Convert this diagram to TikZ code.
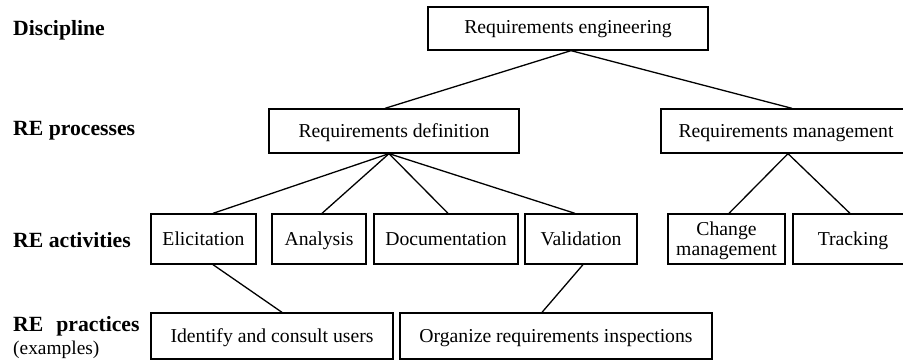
\documentclass[tikz,border=0pt]{standalone}
\usepackage{fontspec}
\setmainfont{Liberation Serif}
\begin{document}
\begin{tikzpicture}[x=1pt,y=-1pt,
  box/.style={draw,line width=1.3pt,rectangle,inner sep=0pt,font=\fontsize{19.7}{21}\selectfont,text height=14pt,text depth=0pt},
  lvl/.style={anchor=west,inner sep=0pt,font=\fontsize{21.7}{23}\selectfont\bfseries},
  conn/.style={line width=1.3pt}]
\clip (0,0) rectangle (903,363);
\useasboundingbox (0,0) rectangle (903,363);
% level labels
\node[lvl] (l1) at (13,30) {Discipline};
\node[lvl] (l2) at (13,131) {RE processes};
\node[lvl] (l3) at (13,240) {RE activities};
\node[lvl] (l4) at (13,326) {RE\hspace{0.6em}practices};
\node[anchor=west,inner sep=0pt,font=\fontsize{19.4}{21}\selectfont] (l5) at (13,350) {(examples)};
% boxes
\node[box,minimum width=280,minimum height=43,text height=12pt,text depth=2pt] (re) at (568,28.5) {Requirements engineering};
\node[box,minimum width=250,minimum height=44] (def) at (394,131) {Requirements definition};
\node[box,minimum width=250,minimum height=44] (mgmt) at (786,131) {Requirements management};
\node[box,minimum width=105,minimum height=50] (eli) at (203.5,239) {Elicitation};
\node[box,minimum width=94,minimum height=50] (ana) at (319,239) {Analysis};
\node[box,minimum width=144,minimum height=50] (doc) at (446,239) {Documentation};
\node[box,minimum width=112,minimum height=50] (val) at (581,239) {Validation};
\node[box,minimum width=117,minimum height=50,text height=,text depth=,font=\fontsize{19.7}{20}\selectfont] (chg) at (726.5,239) {\raisebox{-6.5pt}[0pt][0pt]{\parbox{110pt}{\centering Change\\management}}};
\node[box,minimum width=120,minimum height=50] (trk) at (853,239) {Tracking};
\node[box,minimum width=242,minimum height=46] (idc) at (272,336) {Identify and consult users};
\node[box,minimum width=312,minimum height=46] (org) at (556,336) {Organize requirements inspections};
% connectors
\draw[conn] ([xshift=3]re.south) -- ([xshift=-9]def.north);
\draw[conn] ([xshift=3]re.south) -- ([xshift=6]mgmt.north);
\draw[conn] ([xshift=-5]def.south) -- ([xshift=9.5]eli.north);
\draw[conn] ([xshift=-5]def.south) -- ([xshift=3]ana.north);
\draw[conn] ([xshift=-5]def.south) -- ([xshift=2]doc.north);
\draw[conn] ([xshift=-5]def.south) -- ([xshift=-6]val.north);
\draw[conn] ([xshift=2]mgmt.south) -- ([xshift=2.5]chg.north);
\draw[conn] ([xshift=2]mgmt.south) -- ([xshift=-3]trk.north);
\draw[conn] ([xshift=9.5]eli.south) -- ([xshift=10]idc.north);
\draw[conn] ([xshift=2]val.south) -- ([xshift=-14]org.north);
\end{tikzpicture}
\end{document}
